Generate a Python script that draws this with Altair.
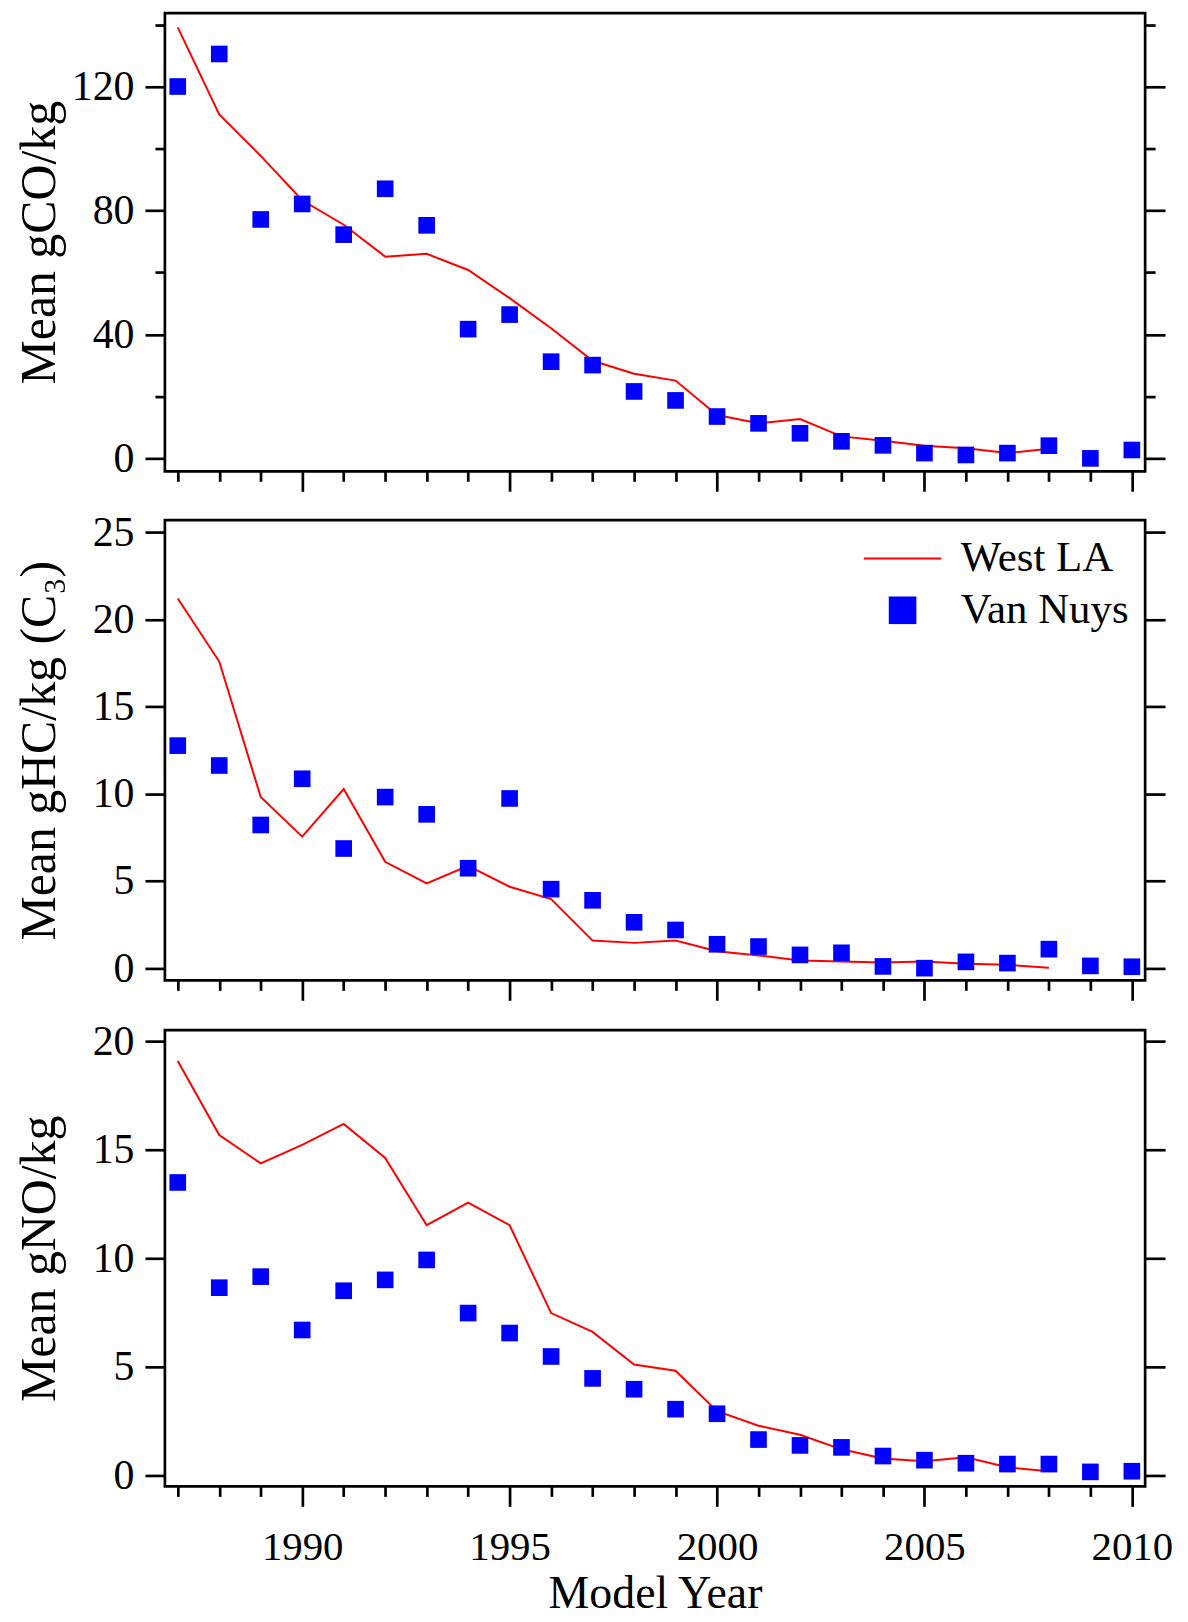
import altair as alt
import pandas as pd

FONT = "Liberation Serif"

years = list(range(1987, 2011))
wla_years = list(range(1987, 2009))

co_vn = [120.0, 130.5, 77.1, 82.1, 72.2, 87.0, 75.2, 41.7, 46.4, 31.2, 30.1, 21.6,
         18.7, 13.5, 11.3, 8.1, 5.5, 4.2, 1.7, 1.1, 1.7, 4.1, 0.0, 2.7]
co_wla = [139.1, 111.0, 97.6, 83.3, 75.4, 65.1, 66.0, 60.8, 51.7, 42.0, 31.5, 27.3,
          25.1, 14.0, 11.3, 12.7, 7.1, 5.7, 4.1, 3.3, 1.7, 3.1]
hc_vn = [12.76, 11.62, 8.21, 10.86, 6.86, 9.81, 8.82, 5.73, 9.73, 4.53, 3.89, 2.63,
         2.19, 1.37, 1.24, 0.76, 0.88, 0.10, 0.00, 0.36, 0.29, 1.09, 0.13, 0.08]
hc_wla = [21.2, 17.58, 9.81, 7.54, 10.27, 6.10, 4.86, 5.87, 4.67, 3.96, 1.58, 1.45,
          1.58, 0.97, 0.73, 0.44, 0.38, 0.32, 0.38, 0.25, 0.19, 0.02]
no_vn = [13.49, 8.64, 9.15, 6.69, 8.50, 9.00, 9.92, 7.47, 6.55, 5.47, 4.46, 3.96,
         3.04, 2.83, 1.64, 1.37, 1.28, 0.88, 0.69, 0.55, 0.51, 0.51, 0.15, 0.18]
no_wla = [19.09, 15.68, 14.37, 15.22, 16.19, 14.62, 11.52, 12.56, 11.52, 7.47, 6.60,
          5.10, 4.81, 2.95, 2.28, 1.86, 1.19, 0.77, 0.64, 0.82, 0.36, 0.18]

series_names = ["West LA", "Van Nuys"]
series_colors = ["#FF0000", "#0000FF"]
legend_shapes = ["M-2.805,-0.072H2.805V0.072H-2.805Z", "M-1,-1H1V1H-1Z"]

X_DOMAIN = [1986.69, 2010.32]
W = 984


def cond(test, a, b):
    return {"condition": {"test": test, "value": a}, "value": b}


def panel(vn, wla, ydomain, yvals, major, ytitle, height, bottom, legend=False):
    df_vn = pd.DataFrame({"year": years, "value": vn, "series": "Van Nuys"})
    df_wla = pd.DataFrame({"year": wla_years, "value": wla, "series": "West LA"})

    xmaj = "datum.value % 5 === 0"
    xaxis = alt.Axis(
        values=years, format="d", tickSize=cond(xmaj, 20, 10),
        labels=bottom,
        labelExpr=f"{xmaj} ? datum.label : ''",
        labelFontSize=cond(xmaj, 41, 0),
        labelPadding=21, labelFont=FONT,
        title="Model Year" if bottom else None,
        titlePadding=5, titleFontSize=46, titleFont=FONT,
    )
    xs = alt.Scale(domain=X_DOMAIN, nice=False, zero=False)
    ys = alt.Scale(domain=ydomain, nice=False, zero=False)
    ymaj = f"datum.value % {major} === 0"
    yleft = alt.Axis(
        values=yvals, orient="left", tickSize=cond(ymaj, 20, 10),
        labelExpr=f"{ymaj} ? datum.label : ''",
        labelFontSize=cond(ymaj, 42, 0),
        labelPadding=11, labelFont=FONT,
        title=ytitle, titleFontSize=50, titleFont=FONT, titleX=-110.5,
        titleBaseline="alphabetic", titleAngle=270,
    )
    yright = alt.Axis(values=yvals, orient="right", tickSize=cond(ymaj, 20, 10),
                      labels=False, title=None)

    line = alt.Chart(df_wla).mark_line(color="#FF0000", strokeWidth=2).encode(
        x=alt.X("year:Q", scale=xs, axis=xaxis),
        y=alt.Y("value:Q", scale=ys, axis=yleft),
    )
    if legend:
        pts = alt.Chart(df_vn).mark_point(filled=True, size=279, opacity=1).encode(
            x=alt.X("year:Q", scale=xs, axis=xaxis),
            y=alt.Y("value:Q", scale=ys, axis=yright),
            color=alt.Color("series:N", scale=alt.Scale(domain=series_names, range=series_colors),
                            legend=alt.Legend(
                                title=None, orient="none", legendX=719, legendY=17,
                                symbolSize=767, symbolStrokeWidth=0, symbolOpacity=1,
                                labelFont=FONT, labelFontSize=43, labelColor="black",
                                labelOffset=37, rowPadding=8, padding=0, labelLimit=0,
                            )),
            shape=alt.Shape("series:N", scale=alt.Scale(domain=series_names, range=legend_shapes),
                            legend=alt.Legend(title=None, orient="none", legendX=719, legendY=17)),
        )
    else:
        pts = alt.Chart(df_vn).mark_point(filled=True, shape="square", size=279,
                                          color="#0000FF", opacity=1).encode(
            x=alt.X("year:Q", scale=xs, axis=xaxis),
            y=alt.Y("value:Q", scale=ys, axis=yright),
        )
    return alt.layer(line, pts).resolve_axis(y="independent").properties(width=W, height=height)


p1 = panel(co_vn, co_wla, [-4.18, 143.7], [0, 20, 40, 60, 80, 100, 120, 140], 40,
           "Mean gCO/kg", 460, False)
p2 = panel(hc_vn, hc_wla, [-0.70, 25.69], [0, 5, 10, 15, 20, 25], 5,
           "Mean gHC/kg (C\u2083)", 462, False, legend=True)
p3 = panel(no_vn, no_wla, [-0.52, 20.51], [0, 5, 10, 15, 20], 5,
           "Mean gNO/kg", 458, True)

chart = alt.vconcat(p1, p2, p3, spacing=15).resolve_legend(
    color="independent", shape="independent"
).properties(
    padding={"left": 5.5, "top": 0, "right": 5, "bottom": 0},
    background="white",
).configure_view(
    stroke="black", strokeWidth=2.7
).configure_axis(
    labelFont=FONT, titleFont=FONT, labelColor="black", titleColor="black",
    titleFontWeight="normal", tickColor="black", tickWidth=2.7, domain=False, grid=False,
    labelFlush=False, labelOverlap=False,
)

chart.save("out.html", embed_options={"renderer": "svg", "actions": False})
